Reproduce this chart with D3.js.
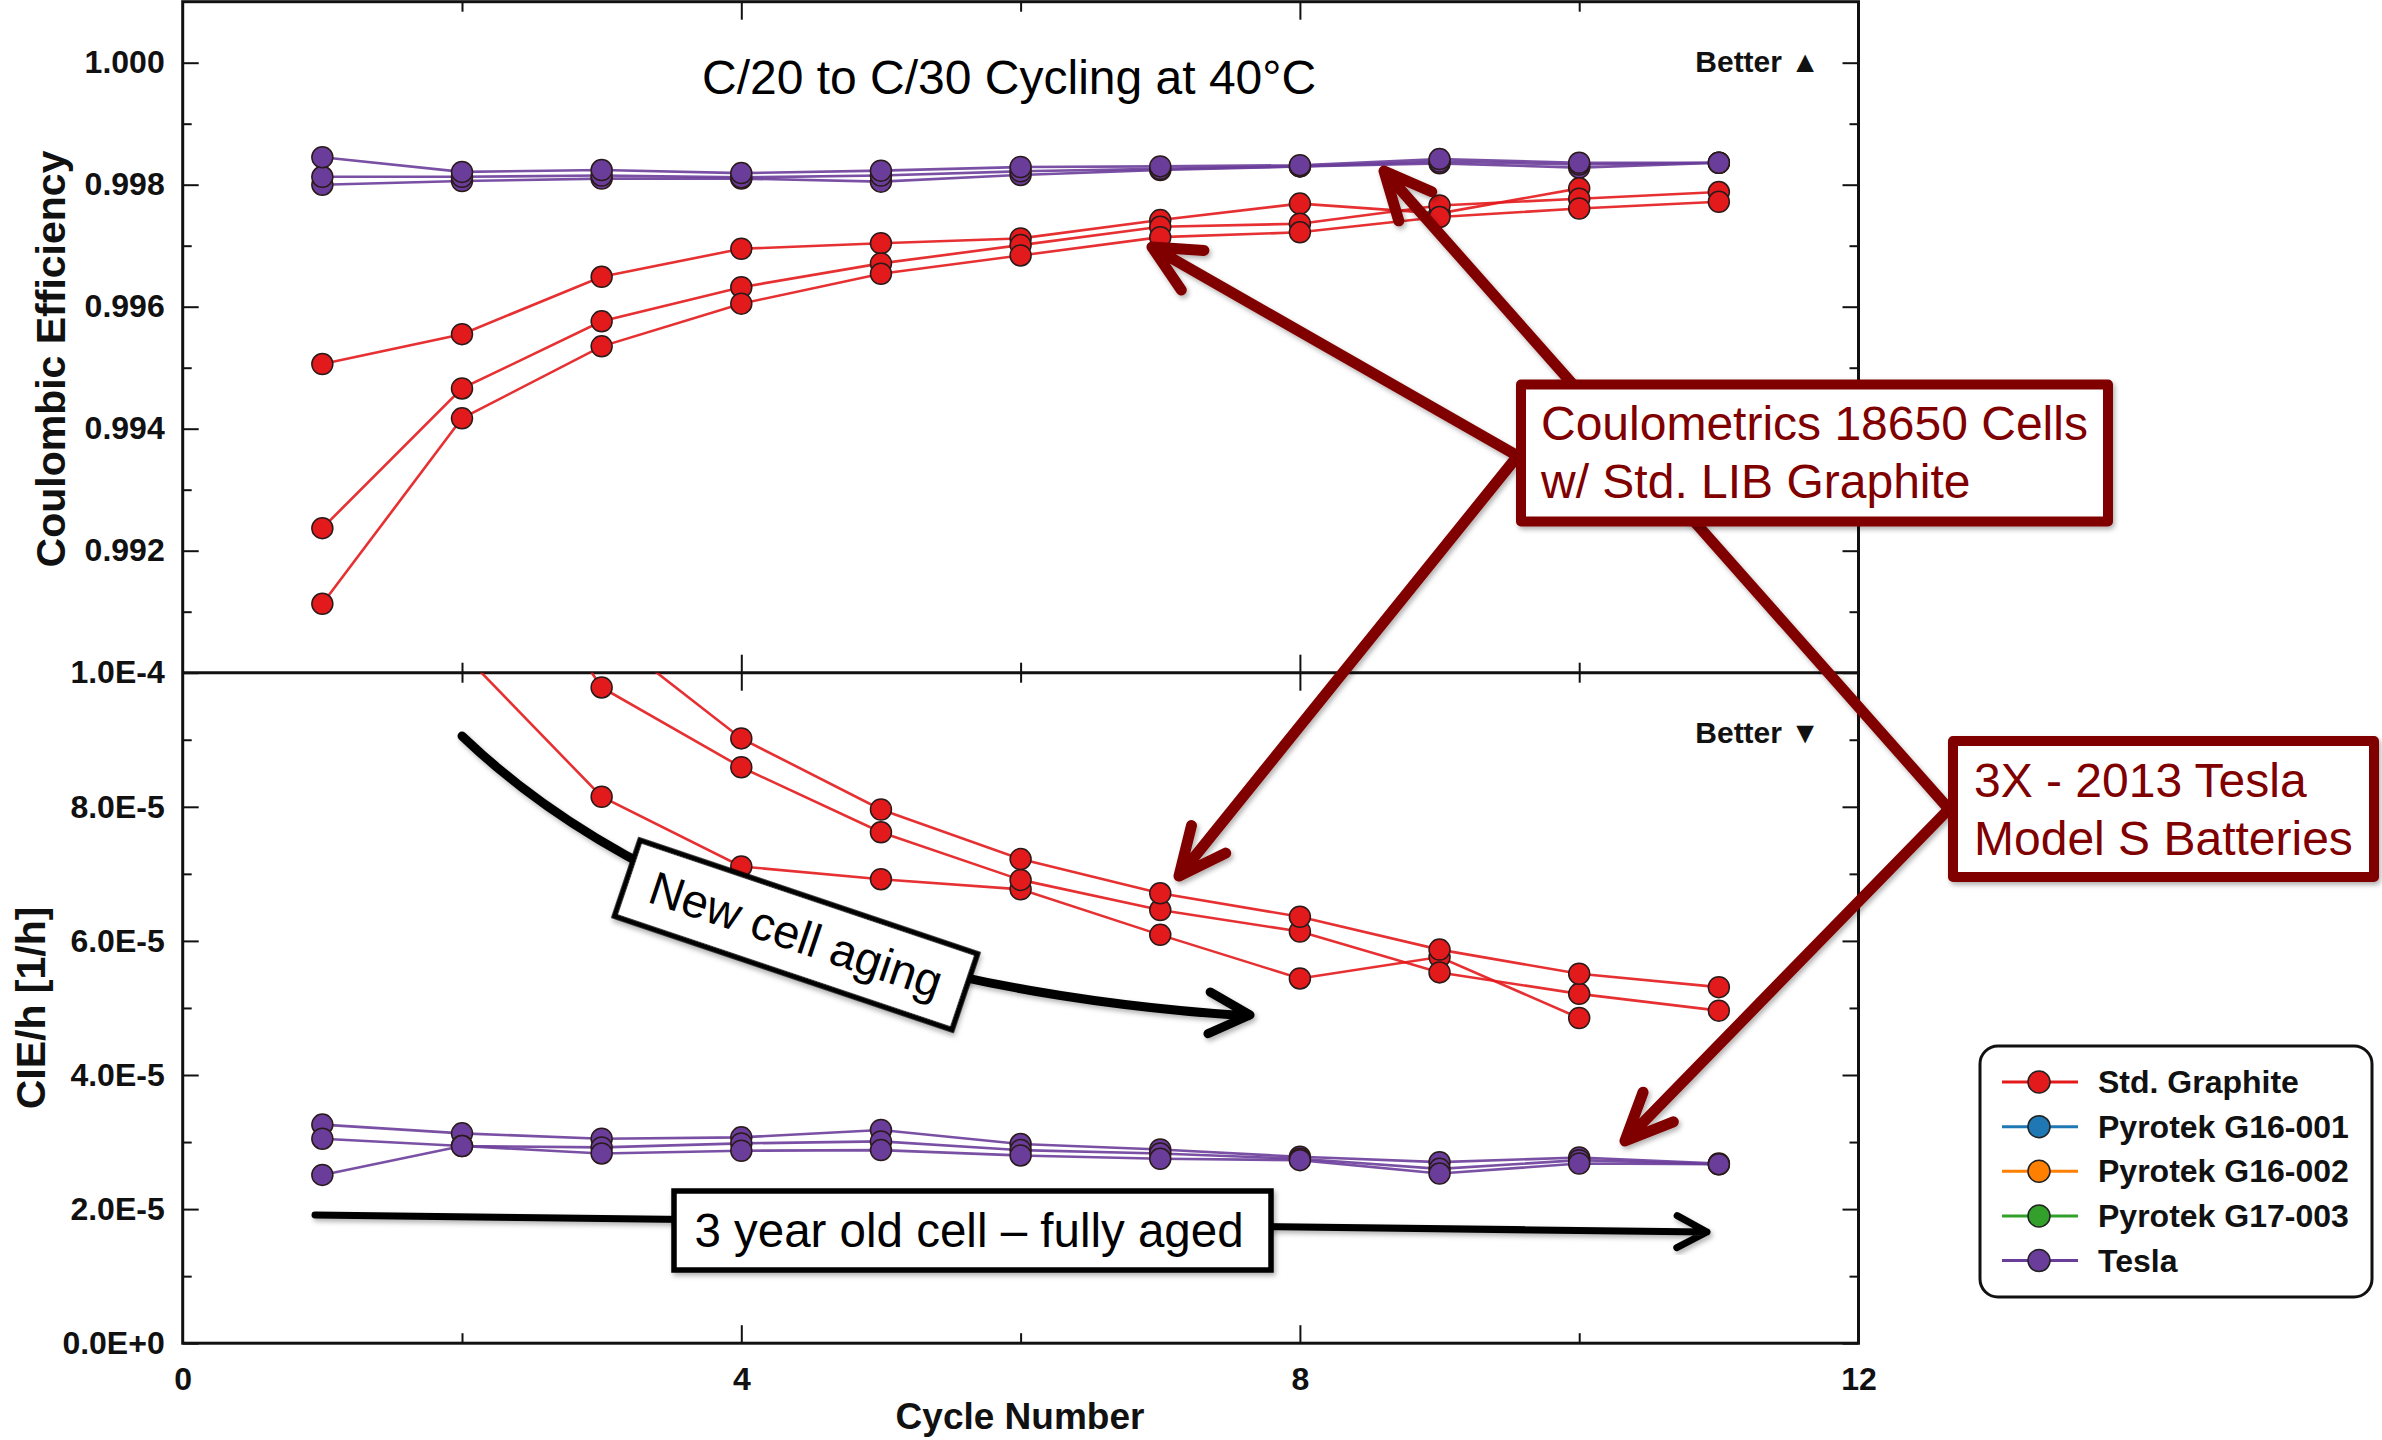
<!DOCTYPE html>
<html><head><meta charset="utf-8">
<script src="https://cdn.jsdelivr.net/npm/d3@7"></script>
<style>
html,body{margin:0;padding:0;background:#fff;}
svg{display:block;}
text{font-family:"Liberation Sans",Arial,Helvetica,sans-serif;}
</style>
</head><body>
<svg id="chart" width="2382" height="1440"></svg>
<script>
// ---------------- DATA ----------------
const cycles = [1, 2, 3, 4, 5, 6, 7, 8, 9, 10, 11];

// Coulombic efficiency (top panel)
const ceGraphiteA = [0.99506, 0.99555, 0.99649, 0.99695, 0.99704, 0.99712, 0.99742, 0.99769, 0.99753, 0.99794];
const ceGraphiteB = [0.99237, 0.99466, 0.99576, 0.99632, 0.99671, 0.99701, 0.99731, 0.99736, 0.99766, 0.99777, 0.99788];
const ceGraphiteC = [0.99113, 0.99417, 0.99535, 0.99605, 0.99654, 0.99684, 0.99714, 0.99722, 0.99747, 0.99761, 0.99772];
const ceTeslaA = [0.99800, 0.99806, 0.99810, 0.99810, 0.99805, 0.99816, 0.99824, 0.99830, 0.99835, 0.99828, 0.99836];
const ceTeslaB = [0.99813, 0.99813, 0.99815, 0.99812, 0.99815, 0.99822, 0.99826, 0.99830, 0.99838, 0.99833, 0.99836];
const ceTeslaC = [0.99845, 0.99821, 0.99824, 0.99819, 0.99823, 0.99829, 0.99830, 0.99832, 0.99842, 0.99836, 0.99836];

// CIE per hour (bottom panel)
const cieGraphiteA = [11.5e-5, 10.3e-5, 8.15e-5, 7.11e-5, 6.92e-5, 6.77e-5, 6.09e-5, 5.44e-5, 5.76e-5, 4.85e-5];
const cieGraphiteB = [17.7e-5, 12.9e-5, 9.78e-5, 8.59e-5, 7.62e-5, 6.91e-5, 6.46e-5, 6.14e-5, 5.53e-5, 5.21e-5, 4.96e-5];
const cieGraphiteC = [20.6e-5, 13.6e-5, 10.64e-5, 9.02e-5, 7.96e-5, 7.22e-5, 6.71e-5, 6.36e-5, 5.87e-5, 5.51e-5, 5.31e-5];
const cieTeslaA = [3.26e-5, 3.13e-5, 3.05e-5, 3.07e-5, 3.18e-5, 2.97e-5, 2.89e-5, 2.78e-5, 2.70e-5, 2.77e-5, 2.68e-5];
const cieTeslaB = [3.05e-5, 2.94e-5, 2.92e-5, 2.98e-5, 3.01e-5, 2.88e-5, 2.83e-5, 2.75e-5, 2.60e-5, 2.73e-5, 2.67e-5];
const cieTeslaC = [2.51e-5, 2.94e-5, 2.83e-5, 2.87e-5, 2.88e-5, 2.80e-5, 2.75e-5, 2.73e-5, 2.53e-5, 2.68e-5, 2.67e-5];

// legend
const legendNames = ["Std. Graphite", "Pyrotek G16-001", "Pyrotek G16-002", "Pyrotek G17-003", "Tesla"];
const legendColors = ["#e31a1c", "#1f78b4", "#ff7f00", "#33a02c", "#6a3d9a"];

// ticks
const xMajorTicks = [4, 8];
const xMinorTicks = [2, 6, 10];
const xTickLabels = [0, 4, 8, 12];
const ceTicks = [0.992, 0.994, 0.996, 0.998, 1.000];
const ceMinorTicks = [0.991, 0.993, 0.995, 0.997, 0.999];
const cieTicks = [0, 2e-5, 4e-5, 6e-5, 8e-5, 1e-4];
const cieTickLabels = ["0.0E+0", "2.0E-5", "4.0E-5", "6.0E-5", "8.0E-5", "1.0E-4"];
const cieMinorTicks = [1e-5, 3e-5, 5e-5, 7e-5, 9e-5];

// ---------------- LAYOUT ----------------
const L = 182.7, R = 1858.5, T = 1.7, MID = 672.7, B = 1343.2;
const FONT = '"Liberation Sans",Arial,Helvetica,sans-serif';
const RED = "#e31a1c", PURPLE = "#6a3d9a", DARKRED = "#800000";

const svg = d3.select("#chart");
const defs = svg.append("defs");
const f = defs.append("filter").attr("id", "shadow").attr("x", "-20%").attr("y", "-20%").attr("width", "140%").attr("height", "140%");
f.append("feDropShadow").attr("dx", 2).attr("dy", 3).attr("stdDeviation", 2.5).attr("flood-color", "#000").attr("flood-opacity", 0.3);
defs.append("clipPath").attr("id", "clipTop").append("rect").attr("x", L).attr("y", T).attr("width", R - L).attr("height", MID - T);
defs.append("clipPath").attr("id", "clipBot").append("rect").attr("x", L).attr("y", MID).attr("width", R - L).attr("height", B - MID);

const x = d3.scaleLinear().domain([0, 12]).range([L, R]);
const yTop = d3.scaleLinear().domain([0.990, 1.001]).range([MID, T]);
const yBot = d3.scaleLinear().domain([0, 1e-4]).range([B, MID]);

// ---------------- AXES ----------------
function yAxes(yScale, major, minor, labels) {
  const gL = svg.append("g").attr("transform", `translate(${L},0)`);
  gL.call(d3.axisLeft(yScale).tickValues(major).tickSize(-16).tickPadding(18)
      .tickFormat((d, i) => labels ? labels[i] : d3.format(".3f")(d)));
  gL.append("g").call(d3.axisLeft(yScale).tickValues(minor).tickSize(-9).tickFormat(""));
  const gR = svg.append("g").attr("transform", `translate(${R},0)`);
  gR.call(d3.axisRight(yScale).tickValues(major).tickSize(-16).tickFormat(""));
  gR.append("g").call(d3.axisRight(yScale).tickValues(minor).tickSize(-9).tickFormat(""));
  [gL, gR].forEach(g => {
    g.selectAll(".domain").remove();
    g.selectAll(".tick line").attr("stroke", "#111").attr("stroke-width", 2);
  });
  gL.selectAll(".tick text").attr("font-family", FONT).attr("font-size", 32).attr("font-weight", "bold").attr("fill", "#111");
}
yAxes(yTop, ceTicks, ceMinorTicks, null);
yAxes(yBot, cieTicks, cieMinorTicks, cieTickLabels);

function xTicks(yPos, dir) { // dir: +1 ticks go down, -1 go up
  const g = svg.append("g").attr("transform", `translate(0,${yPos})`);
  const mk = () => dir > 0 ? d3.axisTop(x) : d3.axisBottom(x);
  g.call(mk().tickValues(xMajorTicks).tickSize(-18).tickFormat(""));
  g.append("g").call(mk().tickValues(xMinorTicks).tickSize(-10).tickFormat(""));
  g.selectAll(".domain").remove();
  g.selectAll(".tick line").attr("stroke", "#111").attr("stroke-width", 2);
}
xTicks(T, 1);
xTicks(MID, -1);
xTicks(MID, 1);
xTicks(B, -1);

const gx = svg.append("g").attr("transform", `translate(0,${B})`)
  .call(d3.axisBottom(x).tickValues(xTickLabels).tickSize(0).tickPadding(24).tickFormat(d3.format("d")));
gx.selectAll(".domain").remove();
gx.selectAll(".tick text").attr("font-family", FONT).attr("font-size", 32).attr("font-weight", "bold").attr("fill", "#111");

// frame
svg.append("rect").attr("x", L).attr("y", T).attr("width", R - L).attr("height", B - T)
  .attr("fill", "none").attr("stroke", "#111").attr("stroke-width", 3);
svg.append("line").attr("x1", L).attr("x2", R).attr("y1", MID).attr("y2", MID)
  .attr("stroke", "#111").attr("stroke-width", 3);

// axis titles
svg.append("text").attr("transform", "translate(65,359) rotate(-90)").attr("text-anchor", "middle")
  .attr("font-size", 41).attr("font-weight", "bold").attr("fill", "#111").text("Coulombic Efficiency");
svg.append("text").attr("transform", "translate(45,1008) rotate(-90)").attr("text-anchor", "middle")
  .attr("font-size", 41).attr("font-weight", "bold").attr("fill", "#111").text("CIE/h [1/h]");
svg.append("text").attr("x", 1020).attr("y", 1429).attr("text-anchor", "middle")
  .attr("font-size", 37).attr("font-weight", "bold").attr("fill", "#111").text("Cycle Number");

// title + better labels
svg.append("text").attr("x", 702).attr("y", 94).attr("font-size", 48).attr("fill", "#000")
  .text("C/20 to C/30 Cycling at 40°C");
svg.append("text").attr("x", 1820).attr("y", 72).attr("text-anchor", "end").attr("font-size", 30)
  .attr("font-weight", "bold").attr("fill", "#111").text("Better ▲");
svg.append("text").attr("x", 1820).attr("y", 743).attr("text-anchor", "end").attr("font-size", 30)
  .attr("font-weight", "bold").attr("fill", "#111").text("Better ▼");

// ---------------- DATA MARKS ----------------
function drawSeries(yScale, clipId, values, color) {
  const g = svg.append("g").attr("clip-path", `url(#${clipId})`);
  const pts = values.map((v, i) => [cycles[i], v]);
  g.append("path").datum(pts)
    .attr("d", d3.line().x(d => x(d[0])).y(d => yScale(d[1])))
    .attr("fill", "none").attr("stroke", color).attr("stroke-width", 2.6).attr("stroke-opacity", 0.9);
  g.selectAll("circle").data(pts).join("circle")
    .attr("cx", d => x(d[0])).attr("cy", d => yScale(d[1])).attr("r", 10.5)
    .attr("fill", color).attr("stroke", "#2a1a1a").attr("stroke-width", 1.5);
}
[ceTeslaA, ceTeslaB, ceTeslaC].forEach(s => drawSeries(yTop, "clipTop", s, PURPLE));
[ceGraphiteA, ceGraphiteB, ceGraphiteC].forEach(s => drawSeries(yTop, "clipTop", s, RED));
[cieTeslaA, cieTeslaB, cieTeslaC].forEach(s => drawSeries(yBot, "clipBot", s, PURPLE));
[cieGraphiteA, cieGraphiteB, cieGraphiteC].forEach(s => drawSeries(yBot, "clipBot", s, RED));

// ---------------- ANNOTATIONS ----------------
const ann = svg.append("g");
function arms(tx, ty, angDeg, len, half) {
  const a = angDeg * Math.PI / 180, h = half * Math.PI / 180;
  const p1 = [tx + len * Math.cos(a + h), ty + len * Math.sin(a + h)];
  const p2 = [tx + len * Math.cos(a - h), ty + len * Math.sin(a - h)];
  return `M${p1[0]},${p1[1]}L${tx},${ty}L${p2[0]},${p2[1]}`;
}
function straightArrow(x1, y1, tx, ty, color, w, len, half) {
  const ang = Math.atan2(y1 - ty, x1 - tx) * 180 / Math.PI;
  ann.append("path").attr("d", `M${x1},${y1}L${tx},${ty}` + arms(tx, ty, ang, len, half))
    .attr("fill", "none").attr("stroke", color).attr("stroke-width", w)
    .attr("stroke-linecap", "round").attr("stroke-linejoin", "round").attr("filter", "url(#shadow)");
}

// black curved arrow: new cell aging
ann.append("path").attr("d", "M462,736 C560,830 780,985 1248,1016" + arms(1250, 1015, 183, 46, 27))
  .attr("fill", "none").attr("stroke", "#000").attr("stroke-width", 9)
  .attr("stroke-linecap", "round").attr("stroke-linejoin", "round").attr("filter", "url(#shadow)");
// black straight arrow: 3 year old cell
straightArrow(315, 1215, 1707, 1232, "#000", 7, 34, 28);

// dark red arrows
straightArrow(1516, 455, 1152, 247, DARKRED, 11, 52, 26);
straightArrow(1516, 458, 1179, 876, DARKRED, 11, 52, 25);
straightArrow(1948, 808, 1384, 171, DARKRED, 11, 52, 25);
straightArrow(1948, 810, 1625, 1141, DARKRED, 11, 52, 24);

// New cell aging box
const ncb = ann.append("g").attr("transform", "translate(796,935) rotate(18.6)");
ncb.append("rect").attr("x", -178).attr("y", -40).attr("width", 356).attr("height", 80)
  .attr("fill", "#fff").attr("stroke", "#000").attr("stroke-width", 5.5).attr("filter", "url(#shadow)");
ncb.append("text").attr("x", 0).attr("y", 16).attr("text-anchor", "middle").attr("font-size", 47)
  .attr("fill", "#000").text("New cell aging");

// 3 year old box
ann.append("rect").attr("x", 674).attr("y", 1191).attr("width", 597).attr("height", 79)
  .attr("fill", "#fff").attr("stroke", "#000").attr("stroke-width", 5.5).attr("filter", "url(#shadow)");
ann.append("text").attr("x", 969).attr("y", 1247).attr("text-anchor", "middle").attr("font-size", 47.5)
  .attr("fill", "#000").text("3 year old cell – fully aged");

// Coulometrics box
ann.append("rect").attr("x", 1521).attr("y", 384.5).attr("width", 587).attr("height", 137)
  .attr("fill", "#fff").attr("stroke", DARKRED).attr("stroke-width", 10).attr("stroke-linejoin", "round").attr("filter", "url(#shadow)");
ann.append("text").attr("x", 1541).attr("y", 440).attr("font-size", 48).attr("fill", DARKRED).text("Coulometrics 18650 Cells");
ann.append("text").attr("x", 1541).attr("y", 498).attr("font-size", 48).attr("fill", DARKRED).text("w/ Std. LIB Graphite");

// Tesla box
ann.append("rect").attr("x", 1953).attr("y", 741).attr("width", 421).attr("height", 136)
  .attr("fill", "#fff").attr("stroke", DARKRED).attr("stroke-width", 10).attr("stroke-linejoin", "round").attr("filter", "url(#shadow)");
ann.append("text").attr("x", 1974).attr("y", 797).attr("font-size", 48).attr("fill", DARKRED).text("3X - 2013 Tesla");
ann.append("text").attr("x", 1974).attr("y", 855).attr("font-size", 48).attr("fill", DARKRED).text("Model S Batteries");

// ---------------- LEGEND ----------------
const lg = svg.append("g");
lg.append("rect").attr("x", 1980).attr("y", 1046).attr("width", 392).attr("height", 251).attr("rx", 18)
  .attr("fill", "#fff").attr("stroke", "#111").attr("stroke-width", 3);
const rows = lg.selectAll("g.row").data(legendNames).join("g").attr("class", "row")
  .attr("transform", (d, i) => `translate(0,${1082 + i * 44.65})`);
rows.append("line").attr("x1", 2002).attr("x2", 2078).attr("y1", 0).attr("y2", 0)
  .attr("stroke", (d, i) => legendColors[i]).attr("stroke-width", 3);
rows.append("circle").attr("cx", 2039).attr("cy", 0).attr("r", 11)
  .attr("fill", (d, i) => legendColors[i]).attr("stroke", "#222").attr("stroke-width", 1.5);
rows.append("text").attr("x", 2098).attr("y", 11).attr("font-size", 32).attr("font-weight", "bold")
  .attr("fill", "#111").text(d => d);
</script>
</body></html>
